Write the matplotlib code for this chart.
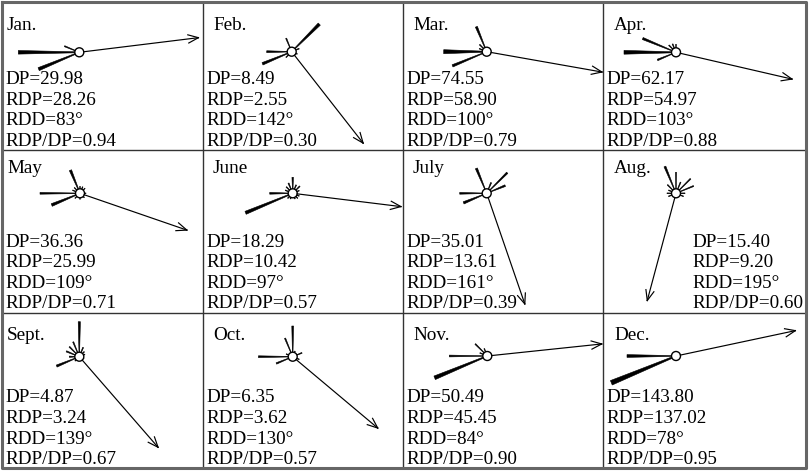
import numpy as np
import matplotlib
matplotlib.use('Agg')
import matplotlib.pyplot as plt
from matplotlib.patches import Circle, Polygon

plt.rcParams['font.family'] = ['Liberation Serif', 'DejaVu Serif']

months = ['Jan.', 'Feb.', 'Mar.', 'Apr.', 'May', 'June',
          'July', 'Aug.', 'Sept.', 'Oct.', 'Nov.', 'Dec.']
dp = [29.98, 8.49, 74.55, 62.17, 36.36, 18.29, 35.01, 15.40, 4.87, 6.35, 50.49, 143.80]
rdp = [28.26, 2.55, 58.90, 54.97, 25.99, 10.42, 13.61, 9.20, 3.24, 3.62, 45.45, 137.02]
rdd = [83, 142, 100, 103, 109, 97, 161, 195, 139, 130, 84, 78]
ratio = [0.94, 0.30, 0.79, 0.88, 0.71, 0.57, 0.39, 0.60, 0.67, 0.57, 0.90, 0.95]

# rose arms: (direction wind comes from, length, width at outer end)
arms_jan = [(270, 61, 3.6), (247.5, 44, 3.2), (292.5, 16, 1.1)]
arms_feb = [(45, 39, 3.0), (270, 25, 1.9), (247.5, 31.6, 2.6), (337.5, 14.5, 1.1),
            (67.5, 8, 0.9), (112.5, 6, 0.8), (225, 8, 0.8)]
arms_mar = [(270, 43, 4.0), (247.5, 37, 2.4), (337.5, 27, 2.2), (315, 10, 0.9), (292.5, 8, 0.8)]
arms_apr = [(270, 52, 3.8), (292.5, 36, 2.2), (247.5, 20, 1.6), (315, 10, 0.9),
            (337.5, 9, 0.9), (0, 8, 0.8)]
arms_may = [(270, 40, 1.8), (247.5, 30.6, 2.8), (337.5, 25, 2.4), (0, 7, 0.7), (22.5, 7, 0.7),
            (45, 7, 0.7), (90, 6, 0.7), (135, 6, 0.7), (180, 6, 0.7), (225, 7, 0.7),
            (292.5, 8, 0.7), (315, 8, 0.7)]
arms_jun = [(247.5, 51, 3.2), (270, 23, 1.8), (0, 16, 1.5), (337.5, 11, 1.1), (22.5, 9, 1.0),
            (45, 10, 1.0), (67.5, 7, 0.8), (112.5, 7, 0.8), (135, 7, 0.8), (157.5, 6, 0.8),
            (202.5, 6, 0.8), (225, 7, 0.8), (292.5, 8, 0.8), (315, 9, 0.9)]
arms_jul = [(337.5, 27, 2.2), (45, 29, 1.8), (67.5, 20, 1.8), (270, 27, 1.8),
            (247.5, 25, 2.4), (22.5, 11.5, 1.1)]
arms_aug = [(337.5, 29, 2.0), (0, 21, 1.1), (45, 20.5, 1.1), (67.5, 19, 1.1), (90, 9, 0.8),
            (112.5, 8, 0.8), (247.5, 8, 0.8), (270, 9, 0.8), (292.5, 8, 0.8), (315, 12, 0.9),
            (22.5, 12, 0.9)]
arms_sep = [(0, 35, 2.2), (247.5, 24.5, 2.2), (270, 10, 1.3), (292.5, 14, 1.3), (315, 14, 1.1),
            (337.5, 16, 1.1), (22.5, 10, 1.0), (45, 7, 0.8), (67.5, 6, 0.8), (112.5, 5, 0.7),
            (225, 6, 0.7)]
arms_oct = [(0, 30.7, 1.8), (270, 34.3, 1.8), (247.5, 17.7, 1.5), (337.5, 20, 1.2),
            (67.5, 10, 1.0), (112.5, 7, 0.8), (22.5, 6, 0.8), (292.5, 7, 0.8)]
arms_nov = [(247.5, 57, 3.8), (270, 38, 1.8), (315, 17, 1.1), (292.5, 8, 0.8), (337.5, 8, 0.8)]
arms_dec = [(247.5, 70, 4.8), (270, 49, 2.8)]
all_arms = [arms_jan, arms_feb, arms_mar, arms_apr, arms_may, arms_jun,
            arms_jul, arms_aug, arms_sep, arms_oct, arms_nov, arms_dec]

# layout (pixels)
col_x = [2, 203, 403, 603, 806]
row_y = [2, 150, 313, 468]
centers = [(79.3, 52.3), (291.7, 51.7), (486.7, 51.7), (676, 52.3),
           (80, 193.3), (292.7, 193.3), (486.7, 193.3), (676, 193.3),
           (79.3, 356.7), (292.7, 356.7), (487.3, 356), (676, 356)]
arrow_len = [120, 116, 117, 119, 113, 109, 117, 111, 120, 111, 115, 122]
label_base = [30, 173, 340]
label_dx = [5, 10, 10, 11]
text_base = [84, 246.7, 402.3]

fig = plt.figure(figsize=(8.09, 4.72), dpi=100)
ax = fig.add_axes([0, 0, 1, 1])
ax.set_xlim(0, 809)
ax.set_ylim(472, 0)
ax.axis('off')

# grid
for x in col_x[1:-1]:
    ax.plot([x, x], [row_y[0], row_y[-1]], color='#333333', lw=1.0)
for y in row_y[1:-1]:
    ax.plot([col_x[0], col_x[-1]], [y, y], color='#333333', lw=1.0)
ax.plot([col_x[0], col_x[-1], col_x[-1], col_x[0], col_x[0]],
        [row_y[0], row_y[0], row_y[-1], row_y[-1], row_y[0]], color='#666666', lw=2.2)

R0 = 4.5
fs = 13.8

for i in range(12):
    r, c = divmod(i, 4)
    cx, cy = centers[i]
    for d, L, w in all_arms[i]:
        th = np.radians(d)
        u = np.array([np.sin(th), -np.cos(th)])
        p = np.array([-u[1], u[0]])
        a = np.array([cx, cy]) + u * R0
        b = np.array([cx, cy]) + u * L
        w0 = max(0.6, 0.3 * w)
        poly = [a + p * w0 / 2, b + p * w / 2, b - p * w / 2, a - p * w0 / 2]
        ax.add_patch(Polygon(poly, closed=True, facecolor='black', edgecolor='black', lw=0.4))
    ax.add_patch(Circle((cx, cy), R0, facecolor='white', edgecolor='black', lw=1.0, zorder=3))

    th = np.radians(rdd[i])
    u = np.array([np.sin(th), -np.cos(th)])
    s = np.array([cx, cy]) + u * R0
    t = np.array([cx, cy]) + u * arrow_len[i]
    ax.plot([s[0], t[0]], [s[1], t[1]], color='black', lw=0.85, zorder=4)
    for sgn in (1, -1):
        phi = th + np.pi + sgn * np.radians(22)
        v = np.array([np.sin(phi), -np.cos(phi)])
        e = t + v * 11
        ax.plot([t[0], e[0]], [t[1], e[1]], color='black', lw=0.85, zorder=4)

    left = col_x[c]
    ax.text(left + label_dx[c], label_base[r], months[i], fontsize=fs, va='baseline', ha='left')
    tx = left + 3 if i != 7 else 692.7
    lines = ['DP=%.2f' % dp[i], 'RDP=%.2f' % rdp[i], 'RDD=%d\u00b0' % rdd[i],
             'RDP/DP=%.2f' % ratio[i]]
    for k, s_ in enumerate(lines):
        ax.text(tx, text_base[r] + k * 20.6, s_, fontsize=fs, va='baseline', ha='left')

fig.savefig('out.png', dpi=100)
